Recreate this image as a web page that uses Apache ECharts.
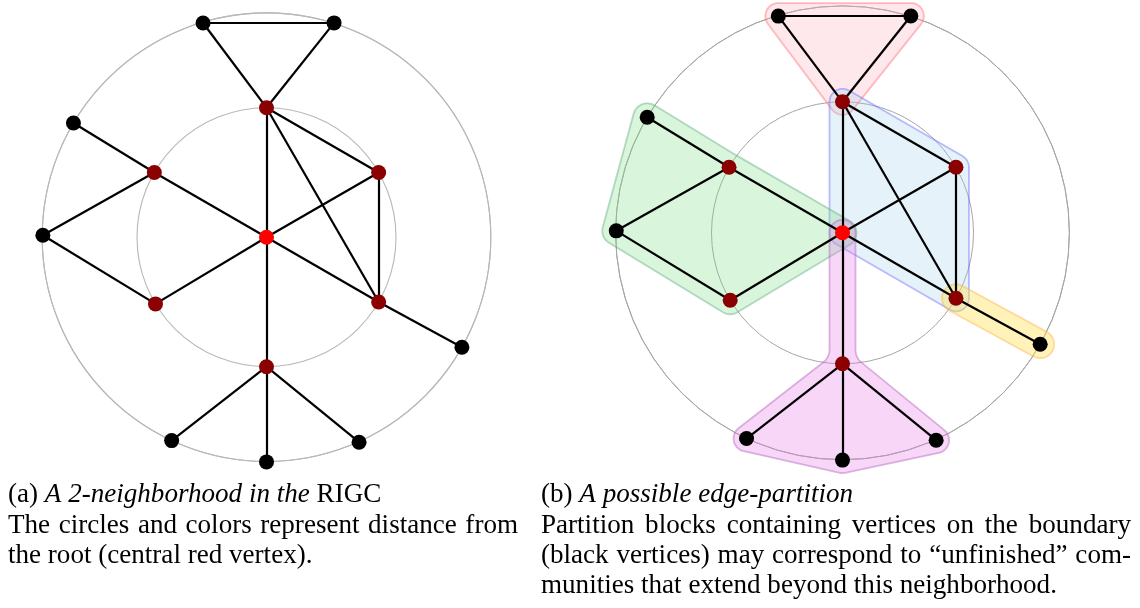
<!DOCTYPE html>
<html><head><meta charset="utf-8">
<script src="https://cdn.jsdelivr.net/npm/echarts@6/dist/echarts.min.js"></script>
<style>html,body{margin:0;padding:0;background:#fff}#c{width:1140px;height:608px}</style>
</head><body><div id="c"></div>
<script>
// ---------- data ----------
// vertices: radius in units of the inner circle, angle in degrees (counter-clockwise from east)
const nodeNames    = ['root','t1','ur1','ul1','ll1','lr1','b1','tl2','tr2','ul2','l2','rl2','bl2','b2','br2'];
const nodeRadius   = [0, 1, 1, 1, 1, 1, 1, 1.725, 1.735, 1.732, 1.727, 1.732, 1.733, 1.735, 1.737];
const nodeAngle    = [0, 90, 30, 150, 211, 330, 270, 106.5, 72.5, 149.4, 179.5, 330.6, 245, 270, 294.3];
const nodeDistance = [0, 1, 1, 1, 1, 1, 1, 2, 2, 2, 2, 2, 2, 2, 2];
const edgeList = [[7,8],[7,1],[8,1],[1,0],[1,2],[1,5],[2,0],[2,5],[0,3],[0,4],[0,5],[0,6],
                  [3,9],[3,10],[10,4],[5,11],[6,12],[6,13],[6,14]];
// edge-partition blocks (vertex cycles)
const blockNames    = ['red','blue','green','yellow','purple'];
const blockVertices = [[7,8,1],[1,2,5,0],[10,9,3,0,4],[5,11],[0,6,12,13,14,6]];
// captions
const captionA1 = [['(a) ', false], ['A 2-neighborhood in the', true], [' RIGC', false]];
const captionA  = ['The circles and colors represent distance from', 'the root (central red vertex).'];
const captionB1 = [['(b) ', false], ['A possible edge-partition', true]];
const captionB  = ['Partition blocks containing vertices on the boundary',
                   '(black vertices) may correspond to \u201cunfinished\u201d com-',
                   'munities that extend beyond this neighborhood.'];

// ---------- styles ----------
const distColor = ['#ff0000', '#8b0000', '#000000'];
const blockFill   = {red:'rgba(255,170,185,0.27)', blue:'rgba(150,205,230,0.25)', green:'rgba(120,220,130,0.28)',
                     yellow:'rgba(255,225,80,0.40)', purple:'rgba(230,120,230,0.30)'};
const blockStroke = {red:'rgba(255,110,120,0.45)', blue:'rgba(100,100,255,0.42)', green:'rgba(90,170,120,0.42)',
                     yellow:'rgba(255,170,60,0.40)', purple:'rgba(180,100,190,0.45)'};
const blockPad = {red: 13, blue: 13, green: 14, yellow: 14, purple: 13};

function offsetOutline(ptsIn, p, q) {
  let pts = ptsIn.slice();
  const n = pts.length;
  let area = 0;
  for (let i = 0; i < n; i++) { const a = pts[i], b = pts[(i+1)%n]; area += a[0]*b[1] - b[0]*a[1]; }
  if (area > 0) pts.reverse();
  const out = [];
  const step = Math.PI / 24;
  for (let i = 0; i < n; i++) {
    const P = pts[(i-1+n)%n], V = pts[i], N = pts[(i+1)%n];
    let d1 = [V[0]-P[0], V[1]-P[1]], d2 = [N[0]-V[0], N[1]-V[1]];
    const l1 = Math.hypot(d1[0], d1[1]), l2 = Math.hypot(d2[0], d2[1]);
    d1 = [d1[0]/l1, d1[1]/l1]; d2 = [d2[0]/l2, d2[1]/l2];
    const n1 = [-d1[1], d1[0]], n2 = [-d2[1], d2[0]];
    const cross = d1[0]*d2[1] - d1[1]*d2[0];
    const dot = d1[0]*d2[0] + d1[1]*d2[1];
    if (cross <= 1e-6 || (Math.abs(cross) < 1e-6 && dot < 0)) {
      const a1 = Math.atan2(n1[1], n1[0]);
      let a2 = Math.atan2(n2[1], n2[0]);
      while (a2 > a1 + 1e-9) a2 -= 2*Math.PI;
      if (Math.abs(cross) < 1e-6 && dot < 0) a2 = a1 - Math.PI;
      const sweep = a1 - a2;
      const k = Math.max(1, Math.ceil(sweep / step));
      for (let j = 0; j <= k; j++) {
        const a = a1 - sweep * j / k;
        out.push([V[0] + p*Math.cos(a), V[1] + p*Math.sin(a)]);
      }
    } else {
      const c = 1 + n1[0]*n2[0] + n1[1]*n2[1];
      const C = [V[0] + (p+q)*(n1[0]+n2[0])/c, V[1] + (p+q)*(n1[1]+n2[1])/c];
      const a1 = Math.atan2(-n1[1], -n1[0]);
      let a2 = Math.atan2(-n2[1], -n2[0]);
      while (a2 < a1) a2 += 2*Math.PI;
      const sweep = a2 - a1;
      const k = Math.max(1, Math.ceil(sweep / step));
      for (let j = 0; j <= k; j++) {
        const a = a1 + sweep * j / k;
        out.push([C[0] + q*Math.cos(a), C[1] + q*Math.sin(a)]);
      }
    }
  }
  return out;
}

function graphSeries(polarIndex) {
  return {
    type: 'graph', coordinateSystem: 'polar', polarIndex: polarIndex, layout: 'none',
    symbol: 'circle', symbolSize: 15, silent: true, z: 5,
    label: {show: false}, emphasis: {disabled: true},
    data: nodeNames.map((name, i) => ({name: name, value: [nodeRadius[i], nodeAngle[i]],
      itemStyle: {color: distColor[nodeDistance[i]]}})),
    links: edgeList.map(e => ({source: e[0], target: e[1]})),
    lineStyle: {color: '#000', width: 2.2, opacity: 1, curveness: 0}
  };
}

function axes(polarIndex, color, width) {
  return {
    radius: {polarIndex: polarIndex, type: 'value', min: 0, max: 1.732, interval: 1,
      axisLine: {show: false}, axisTick: {show: false}, axisLabel: {show: false},
      splitLine: {show: true, lineStyle: {color: color, width: width}}},
    angle: {polarIndex: polarIndex, type: 'value', min: 0, max: 360, startAngle: 0, clockwise: false,
      axisLine: {show: true, lineStyle: {color: color, width: width}},
      axisTick: {show: false}, axisLabel: {show: false}, splitLine: {show: false}}
  };
}
const ax0 = axes(0, '#b8b8b8', 1.1), ax1 = axes(1, '#a6a6a6', 1);

// ---------- captions ----------
const mctx = document.createElement('canvas').getContext('2d');
const FAM = '"Liberation Serif", "Times New Roman", serif';
function fontStr(size, italic) { return (italic ? 'italic ' : '') + size + 'px ' + FAM; }
function measure(t, size, italic) { mctx.font = fontStr(size, italic); return mctx.measureText(t).width; }
let fs = 26 * 516 / measure(captionB[2], 26, false);
fs = Math.min(fs, 27.2);
const texts = [];
function addText(t, x, y, italic) {
  texts.push({type: 'text', x: x, y: y, silent: true,
    style: {text: t, font: fontStr(fs, italic), fill: '#000', verticalAlign: 'middle', textVerticalAlign: 'middle'}});
}
function segLine(segs, x, y) {
  segs.forEach(s => { addText(s[0], x, y, s[1]); x += measure(s[0], fs, s[1]); });
}
function justLine(t, x, y, w) {
  const words = t.split(' ');
  const ws = words.map(wd => measure(wd, fs, false));
  const total = ws.reduce((a, b) => a + b, 0);
  const gap = (w - total) / (words.length - 1);
  words.forEach((wd, i) => { addText(wd, x, y, false); x += ws[i] + gap; });
}
segLine(captionA1, 8, 495);
justLine(captionA[0], 8, 526, 510);
segLine([[captionA[1], false]], 8, 556);
segLine(captionB1, 541, 495);
justLine(captionB[0], 541, 526, 590);
justLine(captionB[1], 541, 556, 590);
segLine([[captionB[2], false]], 541, 586);

const chart = echarts.init(document.getElementById('c'), null, {renderer: 'canvas'});
chart.setOption({
  animation: false,
  backgroundColor: '#fff',
  polar: [{center: [266.5, 237.2], radius: 224.3}, {center: [842.5, 232.8], radius: 226.9}],
  radiusAxis: [ax0.radius, ax1.radius],
  angleAxis: [ax0.angle, ax1.angle],
  series: [
    {
      type: 'custom', coordinateSystem: 'polar', polarIndex: 1, z: 2, silent: true,
      data: blockNames.map(nm => ({name: nm, value: [0, 0]})),
      renderItem: function (params, api) {
        const idx = params.dataIndex;
        const nm = blockNames[idx];
        const pts = blockVertices[idx].map(v => api.coord([nodeRadius[v], nodeAngle[v]]));
        return {type: 'polygon', shape: {points: offsetOutline(pts, blockPad[nm], 16)},
          style: {fill: blockFill[nm], stroke: blockStroke[nm], lineWidth: 1.8}};
      }
    },
    graphSeries(0),
    graphSeries(1)
  ],
  graphic: {elements: texts}
});
</script></body></html>
